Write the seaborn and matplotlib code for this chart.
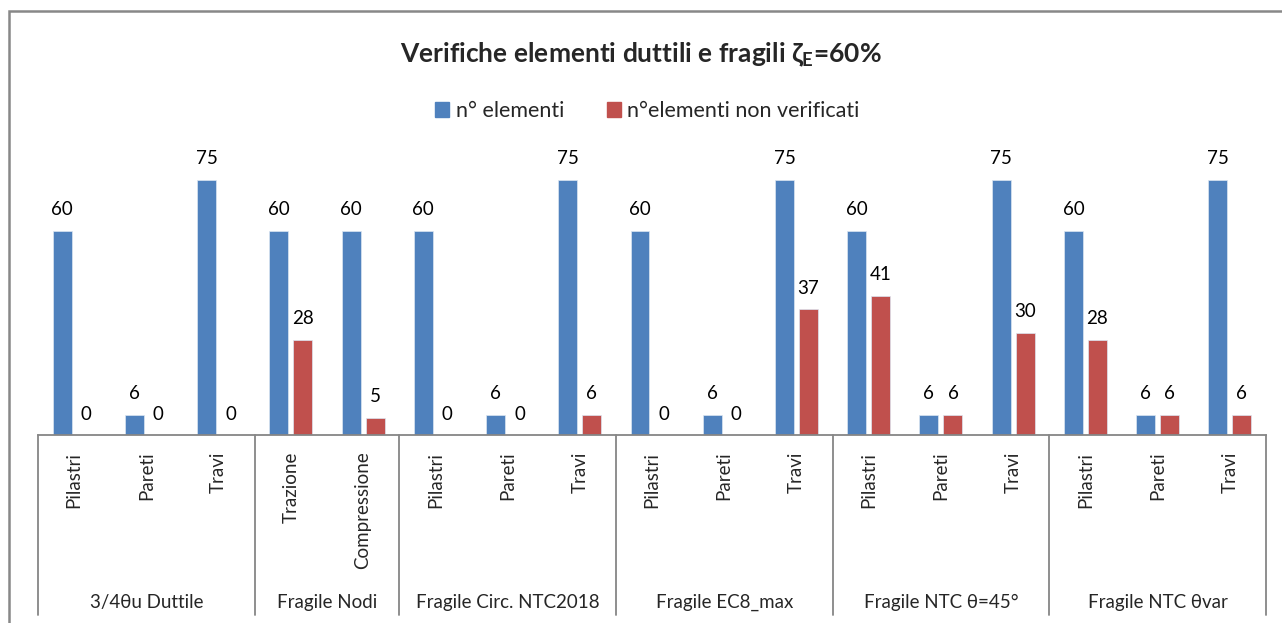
import matplotlib
matplotlib.use('Agg')
import matplotlib.pyplot as plt
from matplotlib.patches import Rectangle
import seaborn as sns
import pandas as pd
import numpy as np

# data
groups = ['3/4θu Duttile', 'Fragile Nodi', 'Fragile Circ. NTC2018',
          'Fragile EC8_max', 'Fragile NTC θ=45°', 'Fragile NTC θvar']
subcats = [['Pilastri', 'Pareti', 'Travi'],
           ['Trazione', 'Compressione'],
           ['Pilastri', 'Pareti', 'Travi'],
           ['Pilastri', 'Pareti', 'Travi'],
           ['Pilastri', 'Pareti', 'Travi'],
           ['Pilastri', 'Pareti', 'Travi']]
n_elementi = [60, 6, 75, 60, 60, 60, 6, 75, 60, 6, 75, 60, 6, 75, 60, 6, 75]
n_non_verificati = [0, 0, 0, 28, 5, 0, 0, 6, 0, 0, 37, 41, 6, 30, 28, 6, 6]
series_names = ['n° elementi', 'n°elementi non verificati']
colors = ['#4F81BD', '#C0504D']

sns.set_style('white')
plt.rcParams['font.family'] = ['Lato', 'DejaVu Sans']
plt.rcParams['mathtext.fontset'] = 'custom'
plt.rcParams['mathtext.rm'] = 'Lato:bold'
plt.rcParams['mathtext.it'] = 'Lato:bold'
plt.rcParams['mathtext.bf'] = 'Lato:bold'
plt.rcParams['mathtext.fallback'] = 'stixsans'

labels = [s for g in subcats for s in g]
ids = [str(i) for i in range(len(labels))]
df = pd.DataFrame({
    'id': ids * 2,
    'valore': n_elementi + n_non_verificati,
    'serie': [series_names[0]] * len(ids) + [series_names[1]] * len(ids),
})

fig = plt.figure(figsize=(12.82, 6.23), dpi=100)
ax = fig.add_axes([38 / 1282, 188 / 623, 1228 / 1282, 305 / 623])

sns.barplot(data=df, x='id', y='valore', hue='serie', order=ids,
            hue_order=series_names, palette=colors, saturation=1,
            width=0.665, gap=0.21, edgecolor='#DCE6F2', linewidth=0.5,
            ax=ax, legend=False)

for cont in ax.containers:
    ax.bar_label(cont, padding=9, fontsize=13.5, color='black')

ax.set_xlim(-0.5, len(labels) - 0.5)
ax.set_ylim(0, 89.7)
ax.set_xlabel('')
ax.set_ylabel('')
ax.set_yticks([])
ax.set_xticks(range(len(labels)))
ax.set_xticklabels(labels, rotation=90, fontsize=13.5, va='top')
ax.tick_params(axis='x', length=0, pad=12)
for side in ['top', 'right', 'left']:
    ax.spines[side].set_visible(False)
ax.spines['bottom'].set_color('#868686')
ax.spines['bottom'].set_linewidth(1.3)

# group dividers and group names
trans = ax.get_xaxis_transform()
bounds = np.cumsum([0] + [len(g) for g in subcats]) - 0.5
for b in bounds:
    ax.plot([b, b], [0, -0.59], color='#868686', lw=1.3, transform=trans, clip_on=False)
for g, lo, hi in zip(groups, bounds[:-1], bounds[1:]):
    ax.text((lo + hi) / 2, -0.548, g, transform=trans, ha='center', va='center', fontsize=13.5)

fig.text(0.5, 0.912, r'Verifiche elementi duttili e fragili $\zeta_{E}$=60%',
         ha='center', va='center', fontsize=19, fontweight='bold')

handles = [Rectangle((0, 0), 1, 1, color=c) for c in colors]
fig.legend(handles, series_names, loc='center', bbox_to_anchor=(0.505, 0.822), ncol=2,
           frameon=False, fontsize=15.5, handlelength=0.65, handleheight=0.65,
           handletextpad=0.3, columnspacing=2.0)

# chart area frame
fig.add_artist(Rectangle((9 / 1282, -0.1), 1.2, 1.1 - 11 / 623, transform=fig.transFigure,
                         fill=False, edgecolor='#888888', lw=1.8))

fig.savefig('out.png', dpi=100)
